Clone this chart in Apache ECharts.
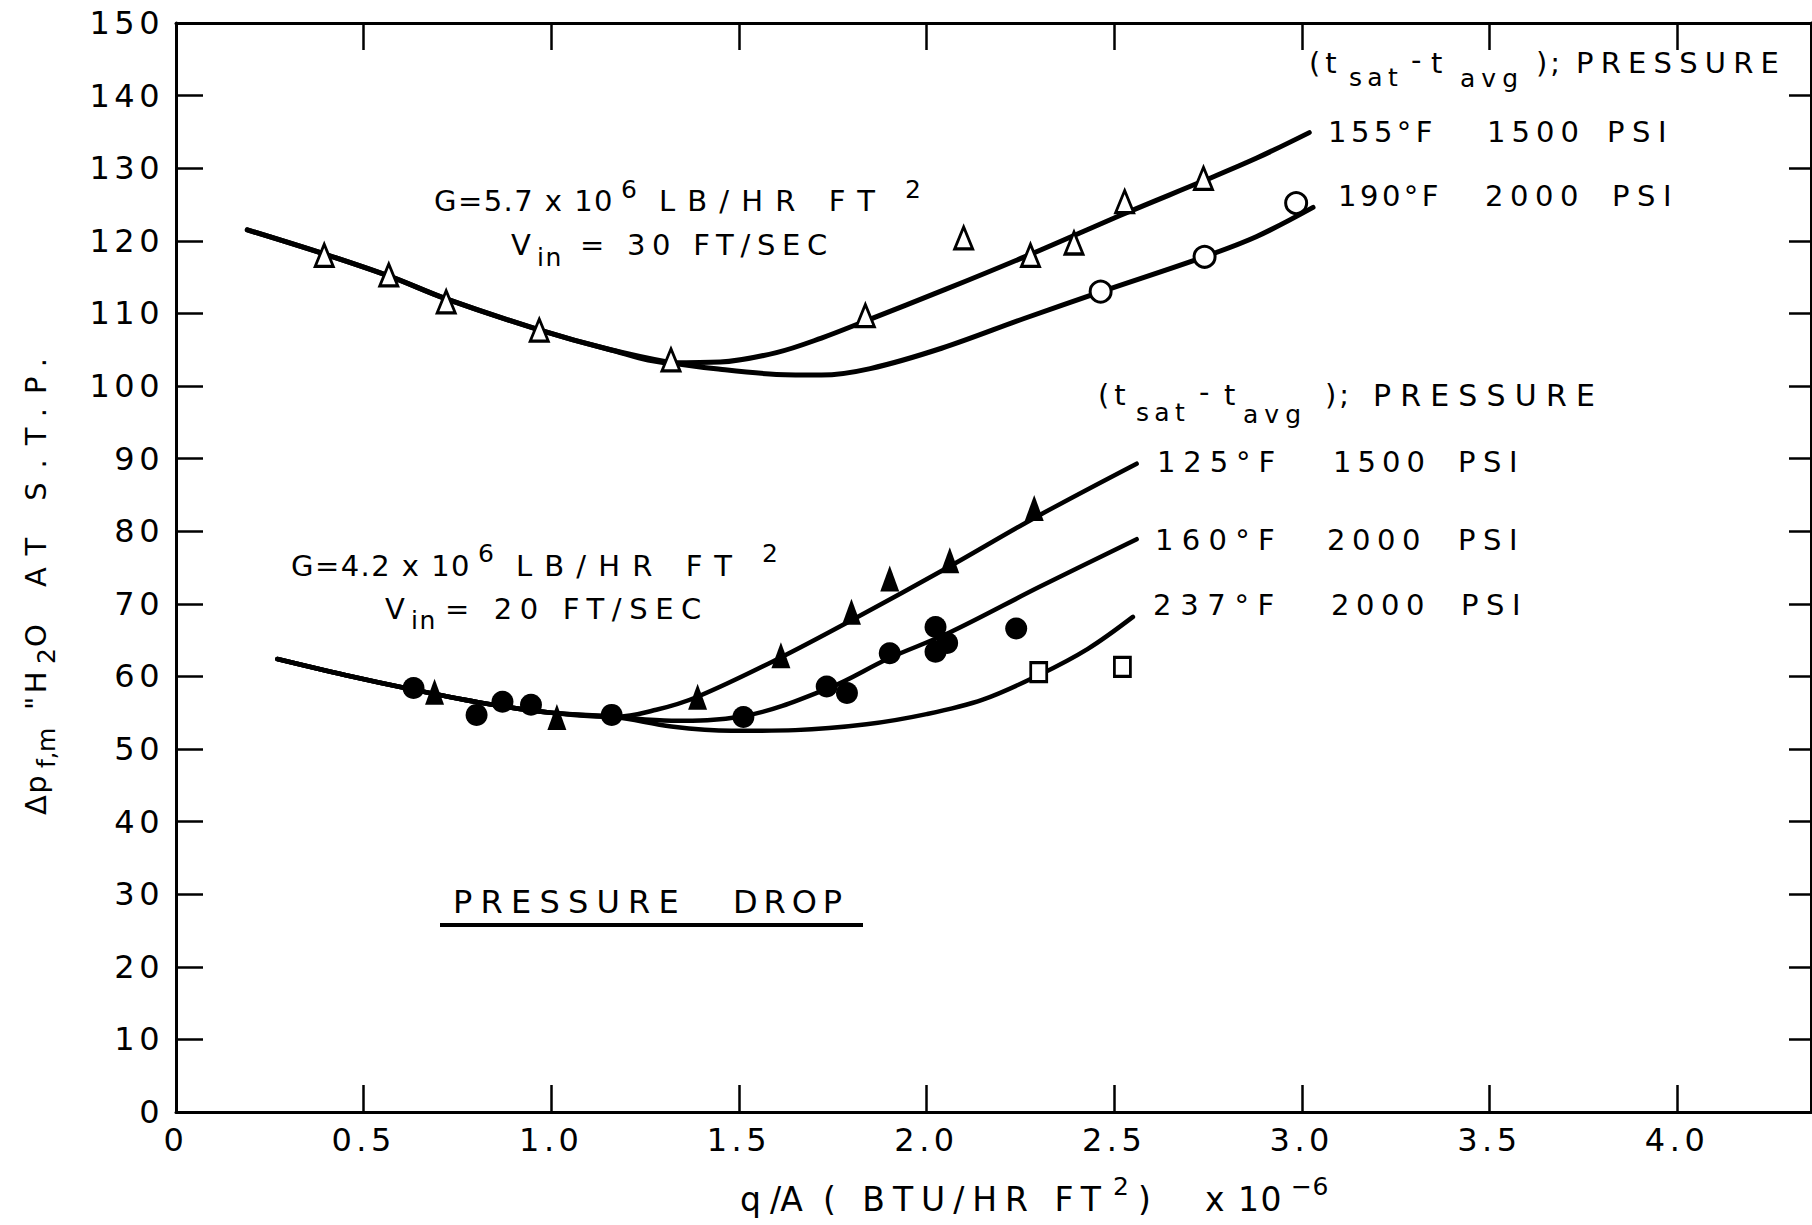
<!DOCTYPE html>
<html>
<head>
<meta charset="utf-8">
<title>Pressure drop</title>
<script src="https://cdn.jsdelivr.net/npm/echarts@6.0.0/dist/echarts.min.js"></script>
<style>
html,body{margin:0;padding:0;background:#fff;}
#chart{width:1812px;height:1225px;}
</style>
</head>
<body>
<div id="chart"></div>
<script>
// ---------- tick labels ----------
const xTickLabels = ['0','0.5','1.0','1.5','2.0','2.5','3.0','3.5','4.0'];
const yTickLabels = ['0','10','20','30','40','50','60','70','80','90','100','110','120','130','140','150'];

// ---------- G = 5.7 x 10^6 (upper group) ----------
const curve155 = [[0.19,121.5],[0.40,118.1],[0.57,115.1],[0.72,112.0],[0.97,107.7],[1.15,105.1],[1.32,103.2],
  [1.45,103.3],[1.60,104.6],[1.72,106.6],[1.84,109.0],[2.05,113.3],[2.28,118.2],[2.53,123.8],[2.74,128.3],[2.88,131.4],[3.02,134.9]];
const curve190 = [[0.19,121.5],[0.40,118.1],[0.57,115.1],[0.72,112.0],[0.97,107.7],[1.15,105.1],[1.32,103.2],
  [1.45,102.3],[1.60,101.6],[1.72,101.5],[1.85,102.4],[2.04,105.2],[2.26,109.3],[2.46,112.9],[2.74,117.8],[2.88,120.6],[3.03,124.6]];
const points155 = [[0.395,118.0],[0.567,115.3],[0.72,111.6],[0.968,107.7],[1.319,103.6],[1.837,109.7],[2.099,120.4],[2.277,118.0],[2.393,119.7],[2.528,125.4],[2.738,128.6]];
const points190 = [[2.464,113.0],[2.741,117.8],[2.985,125.2]];

// ---------- G = 4.2 x 10^6 (lower group) ----------
const curve125 = [[0.27,62.4],[0.45,60.2],[0.63,58.2],[0.82,56.3],[1.00,55.0],[1.17,54.4],
  [1.28,55.4],[1.39,57.2],[1.60,62.3],[1.81,68.0],[2.06,75.1],[2.29,81.9],[2.56,89.3]];
const curve160 = [[0.27,62.4],[0.45,60.2],[0.63,58.2],[0.82,56.3],[1.00,55.0],[1.17,54.4],
  [1.32,53.9],[1.51,54.5],[1.74,58.4],[1.90,62.5],[2.06,66.0],[2.30,72.3],[2.56,78.9]];
const curve237 = [[0.27,62.4],[0.45,60.2],[0.63,58.2],[0.82,56.3],[1.00,55.0],[1.17,54.4],
  [1.32,53.1],[1.48,52.5],[1.65,52.6],[1.84,53.4],[2.00,54.8],[2.15,56.8],[2.30,60.2],[2.43,63.8],[2.55,68.2]];
const points125 = [[0.689,57.9],[1.015,54.4],[1.39,57.2],[1.612,62.9],[1.80,68.9],[1.902,73.5],[2.062,76.0],[2.287,83.2]];
const points160 = [[0.633,58.4],[0.801,54.7],[0.87,56.5],[0.946,56.1],[1.161,54.7],[1.512,54.4],[1.734,58.6],[1.788,57.7],[1.902,63.2],[2.024,66.8],[2.024,63.4],[2.055,64.6],[2.239,66.6]];
const points237 = [[2.299,60.6],[2.522,61.3]];

// ---------- text layout ----------
const FAM = '"DejaVu Sans"';
const mctx = document.createElement('canvas').getContext('2d');
const LSMAP = new Map();
function natural(t, s){ mctx.font = s + 'px ' + FAM; return mctx.measureText(t).width; }
function reg(t, s, w){
  const key = t + '|' + s;
  if (w == null) { if (!LSMAP.has(key)) LSMAP.set(key, s >= 29 ? 5 : 2); return; }
  LSMAP.set(key, (w - natural(t, s)) / Array.from(t).length);
}
function txt(t, x, y, s, w){
  reg(t, s, w);
  return {type:'text', x:x, y:y, silent:true, z:50,
    style:{text:t, font: s + 'px ' + FAM, fill:'#000', align:'left', verticalAlign:'middle'}};
}
// [text, x, y, size, targetWidth]
const annotations = [
  // upper header
  ['(t',1309,63,29,null],['sat',1349,77,25,54],['-',1411,60,29,null],['t',1431,63,29,null],['avg',1460,78,25,64],[');',1536,63,29,27],['PRESSURE',1576,63,29,210],
  ['155°F',1328,132,29,109],['1500',1487,132,29,98],['PSI',1607,132,29,67],
  ['190°F',1338,196,29,104],['2000',1485,196,29,100],['PSI',1612,196,29,67],
  ['G=5.7 x 10',434,201,29,180],['6',621,189,25,null],['LB/HR FT',659,201,29,228],['2',905,189,25,null],
  ['V',511,245,29,null],['in',537,257,25,26],['= 30 FT/SEC',580,245,29,254],
  // lower header
  ['(t',1098,395,29,null],['sat',1136,412,25,54],['-',1199,392,29,null],['t',1224,395,29,null],['avg',1243,414,25,64],[');',1325,395,29,27],['PRESSURE',1373,395,30,231],
  ['125°F',1157,462,29,126],['1500',1333,462,29,98],['PSI',1458,462,29,67],
  ['160°F',1155,540,29,128],['2000',1327,540,29,100],['PSI',1458,540,29,67],
  ['237°F',1153,605,29,130],['2000',1331,605,29,100],['PSI',1461,605,29,67],
  ['G=4.2 x 10',291,566,29,180],['6',478,553,25,null],['LB/HR FT',516,566,29,228],['2',762,553,25,null],
  ['V',385,609,29,null],['in',411,620,25,26],['= 20 FT/SEC',445,609,29,264],
  ['PRESSURE',453,902,32,234],['DROP',733,902,32,115],
  // x axis title
  ['q /A',740,1199,33,62],['( BTU/HR FT',823,1199,33,286],['2',1113,1186,25,null],[')',1138,1199,33,null],['x 10',1205,1199,33,78],['−6',1291,1186,25,38]
];
const yTitle = [['Δp',0,0,29,41],['f,m',47,10,25,40],['"H',105,0,29,42],['2',151,10,25,null],['O AT S.T.P.',168,0,29,303]];

const graphics = annotations.map(a => txt(a[0], a[1], a[2], a[3], a[4]));
graphics.push({type:'group', x:36, y:815, rotation:Math.PI/2, children: yTitle.map(a => txt(a[0], a[1], a[2], a[3], a[4]))});
graphics.push({type:'line', silent:true, shape:{x1:440,y1:925,x2:863,y2:925}, style:{stroke:'#000', lineWidth:4}});

// ---------- chart ----------
const X_MAX = 4.357;
const axisTextStyle = {color:'#000', fontSize:32, fontFamily:FAM};
function lineSeries(data, w){
  return {type:'line', data:data, smooth:0.35, symbol:'none', showSymbol:false, silent:true, z:2,
    lineStyle:{color:'#000', width:w, cap:'round', join:'round'}};
}
function scatter(data, symbol, size, fill){
  return {type:'scatter', data:data, symbol:symbol, symbolSize:size, silent:true, z:5,
    itemStyle:{color:fill, borderColor:'#000', borderWidth:fill === '#000' ? 0 : 3, opacity:1}};
}
const chart = echarts.init(document.getElementById('chart'), null, {renderer:'svg'});
chart.setOption({
  animation:false,
  backgroundColor:'#fff',
  grid:{left:176, right:1, top:23, bottom:113, containLabel:false},
  xAxis:[
    {type:'value', position:'bottom', min:0, max:X_MAX, interval:0.5,
      axisLine:{show:true, onZero:false, lineStyle:{color:'#000', width:3}},
      axisTick:{show:true, inside:true, length:27, lineStyle:{color:'#000', width:2.5}},
      axisLabel:Object.assign({margin:12, showMaxLabel:false,
        formatter:v => { const i = Math.round(v / 0.5); return Math.abs(v - i * 0.5) < 1e-6 ? (xTickLabels[i] || '') : ''; }}, axisTextStyle),
      splitLine:{show:false}},
    {type:'value', position:'top', min:0, max:X_MAX, interval:0.5,
      axisLine:{show:true, onZero:false, lineStyle:{color:'#000', width:3}},
      axisTick:{show:true, inside:true, length:27, lineStyle:{color:'#000', width:2.5}},
      axisLabel:{show:false}, splitLine:{show:false}}
  ],
  yAxis:[
    {type:'value', position:'left', min:0, max:150, interval:10,
      axisLine:{show:true, onZero:false, lineStyle:{color:'#000', width:3}},
      axisTick:{show:true, inside:true, length:27, lineStyle:{color:'#000', width:2.5}},
      axisLabel:Object.assign({margin:12, formatter:v => yTickLabels[Math.round(v / 10)] || ''}, axisTextStyle),
      splitLine:{show:false}},
    {type:'value', position:'right', min:0, max:150, interval:10,
      axisLine:{show:true, onZero:false, lineStyle:{color:'#000', width:3}},
      axisTick:{show:true, inside:true, length:22, lineStyle:{color:'#000', width:2.5}},
      axisLabel:{show:false}, splitLine:{show:false}}
  ],
  graphic:graphics,
  series:[
    lineSeries(curve155, 5),
    lineSeries(curve190, 5),
    lineSeries(curve125, 4.5),
    lineSeries(curve160, 4.5),
    lineSeries(curve237, 4.5),
    scatter(points155, 'triangle', [18,22], '#fff'),
    scatter(points190, 'circle', 21, '#fff'),
    scatter(points125, 'triangle', [19,26], '#000'),
    scatter(points160, 'circle', 22, '#000'),
    scatter(points237, 'rect', [16,19], '#fff')
  ]
});

function applySpacing(){
  document.querySelectorAll('#chart svg text').forEach(el => {
    const t = el.textContent;
    const fs = Math.round(parseFloat(getComputedStyle(el).fontSize));
    const key = t + '|' + fs;
    const ls = LSMAP.has(key) ? LSMAP.get(key) : (fs === 32 ? 4.5 : 0);
    el.style.letterSpacing = ls.toFixed(2) + 'px';
    el.style.whiteSpace = 'pre';
  });
}
applySpacing();
chart.on('finished', applySpacing);
</script>
</body>
</html>
